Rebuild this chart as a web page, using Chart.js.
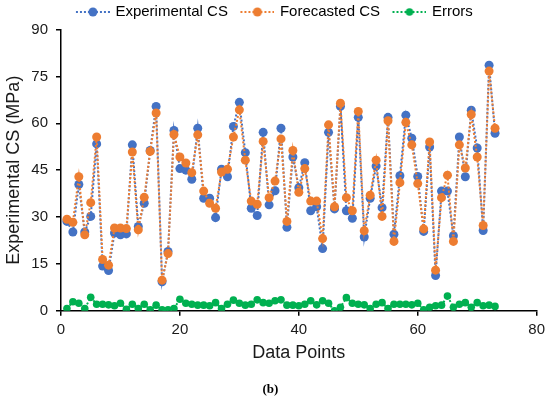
<!DOCTYPE html>
<html>
<head>
<meta charset="utf-8">
<script src="https://cdn.jsdelivr.net/npm/chart.js@4.4.0/dist/chart.umd.min.js"></script>
<style>
  html, body { margin: 0; padding: 0; background: #fff; }
  #wrap { width: 550px; height: 399px; }
</style>
</head>
<body>
<div id="wrap"><canvas id="myChart" width="550" height="399"></canvas></div>
<script>
// data, points 1..73
const experimentalCS = [
  28.6, 25.2, 40.4, 25.2, 30.2, 53.4, 14.3, 12.9, 24.9, 24.3,
  24.6, 53.1, 27.0, 34.4, 51.3, 65.4, 9.3, 19.0, 57.7, 45.5,
  45.0, 42.1, 58.4, 36.0, 36.0, 29.8, 45.3, 42.9, 59.0, 66.7,
  50.6, 32.8, 30.5, 57.1, 33.9, 38.4, 58.4, 26.7, 49.2, 39.4,
  47.4, 32.0, 33.3, 19.9, 57.1, 32.6, 65.4, 32.0, 29.6, 61.9,
  23.6, 36.0, 46.3, 33.0, 61.9, 24.5, 43.2, 62.6, 55.2, 43.0,
  25.4, 52.4, 11.3, 38.3, 38.3, 24.0, 55.6, 42.9, 64.2, 52.1,
  25.7, 78.6, 56.8
];
const forecastedCS = [
  29.3, 28.3, 42.9, 24.3, 34.6, 55.6, 16.4, 14.6, 26.5, 26.5,
  26.3, 50.8, 25.9, 36.3, 51.0, 63.3, 9.8, 18.3, 56.4, 49.2,
  47.3, 44.2, 56.3, 38.3, 34.4, 32.8, 44.4, 45.3, 55.6, 64.3,
  48.2, 35.1, 34.1, 54.2, 36.2, 41.5, 55.0, 28.6, 51.3, 37.9,
  45.5, 35.1, 35.1, 23.1, 59.5, 33.3, 66.4, 36.2, 32.0, 63.8,
  25.6, 37.0, 48.2, 30.2, 60.8, 22.2, 41.0, 60.3, 53.1, 40.7,
  26.2, 54.0, 13.0, 36.2, 43.4, 22.2, 53.1, 45.7, 62.8, 49.2,
  27.3, 76.7, 58.4
];
const errors = [
  0.7, 2.9, 2.4, 0.7, 4.3, 2.1, 2.1, 1.9, 1.6, 2.4,
  0.5, 2.1, 0.7, 2.1, 0.3, 1.8, 0.3, 0.3, 0.7, 3.7,
  2.4, 2.1, 1.8, 1.8, 1.6, 2.6, 0.7, 2.1, 3.4, 2.4,
  1.8, 2.1, 3.5, 2.6, 2.4, 3.2, 3.5, 1.8, 1.8, 1.6,
  2.1, 3.2, 1.9, 3.2, 2.4, 0.0, 1.1, 4.2, 2.4, 2.1,
  1.9, 0.7, 2.1, 2.6, 0.7, 2.1, 2.1, 2.1, 1.9, 2.4,
  0.3, 1.1, 1.6, 1.8, 4.7, 1.1, 2.1, 2.6, 1.1, 2.6,
  1.6, 1.8, 1.4
];
const seriesNames = ["Experimental CS", "Forecasted CS", "Errors"];
const seriesColors = ["#4472C4", "#ED7D31", "#00B050"];
const yTicks = [0, 15, 30, 45, 60, 75, 90];
const xTicks = [0, 20, 40, 60, 80];

function toPoints(arr) {
  return arr.map((v, i) => ({ x: i + 1, y: v }));
}

// legend swatch: dotted line with a dot, left margin keeps items apart
function legendSwatch(color, r) {
  const c = document.createElement("canvas");
  c.width = 44;
  c.height = 10;
  const g = c.getContext("2d");
  g.strokeStyle = color;
  g.lineWidth = 2;
  g.setLineDash([2, 2]);
  g.beginPath();
  g.moveTo(10, 5);
  g.lineTo(44, 5);
  g.stroke();
  g.fillStyle = color;
  g.beginPath();
  g.arc(27, 5, r, 0, Math.PI * 2);
  g.fill();
  return c;
}

const allData = [experimentalCS, forecastedCS, errors];
const radii = [4.5, 4.5, 3.8];
const datasets = allData.map((arr, k) => ({
  label: seriesNames[k],
  data: toPoints(arr),
  borderColor: seriesColors[k],
  backgroundColor: seriesColors[k],
  borderWidth: 2,
  borderDash: [2, 2],
  pointRadius: radii[k],
  pointBorderWidth: 0,
  pointHoverRadius: radii[k],
  tension: 0,
  order: 3 - k,
}));

Chart.defaults.font.family = '"Liberation Sans", Arial, sans-serif';
Chart.defaults.color = "#1a1a1a";

const ctx = document.getElementById("myChart");
new Chart(ctx, {
  type: "line",
  data: { datasets: datasets },
  options: {
    responsive: false,
    animation: false,
    layout: { padding: { left: 3.7, right: 13, top: 0, bottom: 0 } },
    plugins: {
      tooltip: { enabled: false },
      legend: {
        position: "top",
        labels: {
          usePointStyle: true,
          pointStyleWidth: 40,
          boxHeight: 10,
          padding: 4.5,
          font: { size: 15 },
          color: "#1a1a1a",
          generateLabels: (chart) =>
            chart.data.datasets.map((ds, i) => ({
              text: ds.label,
              fillStyle: ds.borderColor,
              strokeStyle: ds.borderColor,
              lineWidth: 0,
              pointStyle: legendSwatch(ds.borderColor, radii[i]),
              datasetIndex: i,
              hidden: false,
            })),
        },
      },
      subtitle: {
        display: true,
        position: "bottom",
        text: "(b)",
        color: "#000",
        font: { family: '"Liberation Serif", serif', size: 13, weight: "bold" },
        padding: { top: 18, bottom: 2 },
      },
    },
    scales: {
      x: {
        type: "linear",
        min: 0,
        max: 80,
        afterBuildTicks: (axis) => { axis.ticks = xTicks.map((v) => ({ value: v })); },
        grid: { drawOnChartArea: false, drawTicks: true, tickLength: 5, color: "#000", lineWidth: 1.5 },
        border: { color: "#000", width: 1.5 },
        ticks: { font: { size: 15 }, padding: 5, color: "#1a1a1a" },
        title: { display: true, text: "Data Points", font: { size: 18 }, color: "#1a1a1a", padding: { top: -2, bottom: 0 } },
      },
      y: {
        min: 0,
        max: 90,
        afterBuildTicks: (axis) => { axis.ticks = yTicks.map((v) => ({ value: v })); },
        grid: { drawOnChartArea: false, drawTicks: true, tickLength: 5, color: "#000", lineWidth: 1.5 },
        border: { color: "#000", width: 1.5 },
        ticks: { font: { size: 15 }, padding: 8, color: "#1a1a1a" },
        title: { display: true, text: "Experimental CS (MPa)", font: { size: 18 }, color: "#1a1a1a", padding: { top: 0, bottom: -2 } },
      },
    },
  },
});
</script>
</body>
</html>
